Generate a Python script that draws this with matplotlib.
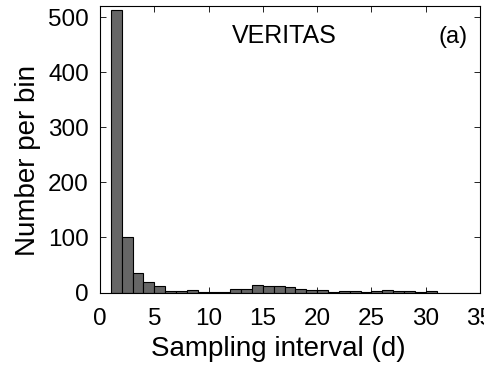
import numpy as np
import matplotlib
matplotlib.use("Agg")
import matplotlib.pyplot as plt

plt.rcParams['font.family'] = ['Liberation Sans', 'DejaVu Sans']

# histogram bins (days) and counts per bin
bin_edges = list(range(1, 36))
counts = [512, 100, 36, 19, 11, 2, 2, 5, 1, 1, 1, 7, 6, 13, 11, 11, 10, 7, 5, 4,
          1, 2, 2, 1, 2, 4, 2, 2, 1, 2, 0, 0, 0, 0]

fig = plt.figure(figsize=(4.85, 3.66), dpi=100)
ax = fig.add_axes([100 / 485, 1 - 292.5 / 366, 380 / 485, 286.5 / 366])

ax.bar(bin_edges[:-1], counts, width=1, align='edge',
       color='#666666', edgecolor='black', linewidth=0.8)

ax.set_xlim(0, 35)
ax.set_ylim(0, 520)
ax.set_xticks(range(0, 36, 5))
ax.set_yticks(range(0, 501, 100))
ax.tick_params(direction='in', top=True, right=True, labelsize=17.5, length=4, width=0.6)
ax.tick_params(axis='x', pad=11)
ax.tick_params(axis='y', pad=8)
for s in ax.spines.values():
    s.set_linewidth(0.8)

ax.set_xlabel('Sampling interval (d)', fontsize=20, va='baseline')
ax.xaxis.set_label_coords(0.468, -0.222)
ax.set_ylabel('Number per bin', fontsize=20, va='center')
ax.yaxis.set_label_coords(-0.19, 0.46)

ax.text(0.484, 0.896, 'VERITAS', transform=ax.transAxes, ha='center', va='center', fontsize=18)
ax.text(0.93, 0.892, '(a)', transform=ax.transAxes, ha='center', va='center', fontsize=17)

fig.savefig('out.png', dpi=100)
